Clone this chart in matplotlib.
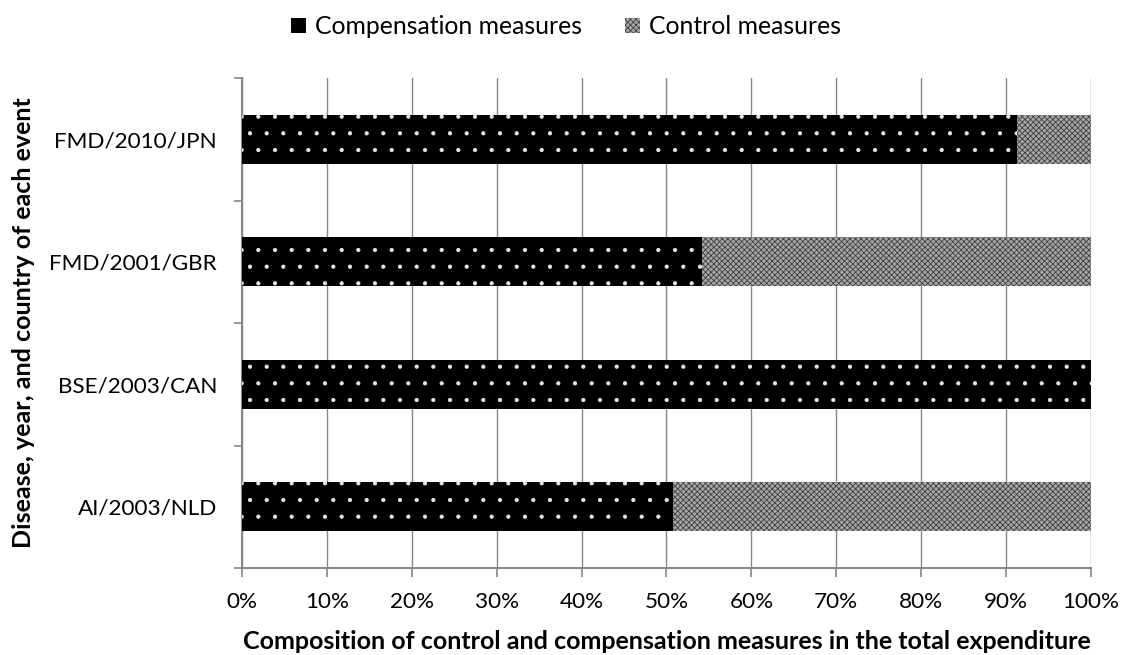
import matplotlib
matplotlib.use("Agg")
import matplotlib.pyplot as plt
from matplotlib.patches import Patch
from matplotlib.ticker import FixedLocator, PercentFormatter

plt.rcParams['font.family'] = ['Lato', 'DejaVu Sans']
plt.rcParams['hatch.linewidth'] = 0.6

events = ["AI/2003/NLD", "BSE/2003/CAN", "FMD/2001/GBR", "FMD/2010/JPN"]
compensation = [50.8, 100.0, 54.2, 91.3]
control = [49.2, 0.0, 45.8, 8.7]

series_names = ["Compensation measures", "Control measures"]
x_ticks = list(range(0, 101, 10))

axis_gray = "#888888"
tick_size = 16.2
legend_size = 17.8
title_size = 18

fig = plt.figure(figsize=(11.24, 6.55), dpi=100)
ax = fig.add_axes([0.2153, 0.1328, 0.7553, 0.7481])

pos = list(range(len(events)))
bar_h = 0.4

comp_style = dict(facecolor="black", edgecolor="#e6e6e6", hatch=".", linewidth=0)
ctrl_style = dict(facecolor="#a6a6a6", edgecolor="#404040", hatch="xxxxxx", linewidth=0)

ax.barh(pos, compensation, height=bar_h, **comp_style, zorder=3)
ax.barh(pos, control, left=compensation, height=bar_h, **ctrl_style, zorder=3)

ax.set_xlim(0, 100)
ax.set_ylim(-0.5, len(events) - 0.5)

ax.set_xticks(x_ticks)
ax.xaxis.set_major_formatter(PercentFormatter(decimals=0))
ax.tick_params(axis="x", length=6.5, width=1.2, color=axis_gray,
               labelsize=tick_size, pad=11, direction="out")
ax.grid(axis="x", color=axis_gray, linewidth=1.0, zorder=0)

ax.yaxis.set_major_locator(FixedLocator([p - 0.5 for p in pos] + [len(events) - 0.5]))
ax.yaxis.set_minor_locator(FixedLocator(pos))
ax.set_yticklabels([], minor=False)
ax.set_yticklabels(events, minor=True)
ax.tick_params(axis="y", which="major", length=6, width=1.2, color=axis_gray)
ax.tick_params(axis="y", which="minor", length=0, labelsize=tick_size, pad=18)

for side in ("top", "right"):
    ax.spines[side].set_visible(False)
for side in ("left", "bottom"):
    ax.spines[side].set_color(axis_gray)
    ax.spines[side].set_linewidth(1.5)

ax.set_xlabel("Composition of control and compensation measures in the total expenditure",
              fontsize=title_size, fontweight="bold", labelpad=13)
ax.set_ylabel("Disease, year, and country of each event",
              fontsize=title_size, fontweight="bold", labelpad=10)

handles = [Patch(facecolor="black", edgecolor="black", linewidth=0,
                 label=series_names[0]),
           Patch(**ctrl_style, label=series_names[1])]
fig.legend(handles=handles, loc="center", bbox_to_anchor=(0.5036, 0.959), ncol=2,
           frameon=False, fontsize=legend_size, handlelength=0.6, handleheight=0.6,
           handletextpad=0.36, columnspacing=1.75)

fig.savefig("out.png", dpi=100)
